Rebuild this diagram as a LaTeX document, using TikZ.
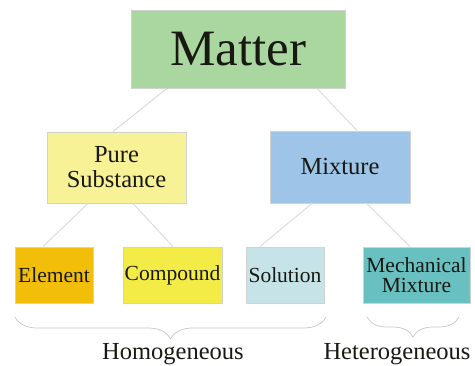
\documentclass[tikz,border=0pt]{standalone}
\usepackage{fontspec}
\setmainfont{Liberation Serif}
\usetikzlibrary{positioning,decorations.pathreplacing}

\definecolor{matterGreen}{RGB}{170,214,160}
\definecolor{pureYellow}{RGB}{247,242,150}
\definecolor{mixBlue}{RGB}{158,197,232}
\definecolor{elemOrange}{RGB}{242,190,10}
\definecolor{compYellow}{RGB}{243,235,70}
\definecolor{solCyan}{RGB}{198,227,231}
\definecolor{mechTeal}{RGB}{104,192,192}
\definecolor{inkDark}{RGB}{25,25,20}

\begin{document}
\begin{tikzpicture}[
        x=1pt, y=-1pt,
        box/.style={
            rectangle, draw = gray!35, line width = 0.8pt, text = inkDark,
            inner sep = 0pt, align = center
        },
        link/.style={draw = gray!30, line width = 0.9pt},
        bracket/.style={
            draw = gray!45, line width = 0.7pt,
            decorate, decoration = {brace, mirror, amplitude = 22pt}
        },
        grouplabel/.style={text = inkDark, font = \fontsize{24.5}{26}\selectfont},
    ]
        \useasboundingbox (0,0) rectangle (475,366);

        \node (matter) [box, fill = matterGreen, minimum width = 214pt, minimum height = 78pt,
            font = \fontsize{51}{51}\selectfont] at (238,49) {Matter};

        \node (pure) [box, fill = pureYellow, minimum width = 139pt, minimum height = 71pt,
            font = \fontsize{24.5}{25}\selectfont] at (116.5,167.5) {Pure\\Substance};
        \node (mixture) [box, fill = mixBlue, minimum width = 140pt, minimum height = 72pt,
            font = \fontsize{24.5}{25}\selectfont] at (340,167) {Mixture};

        \node (element) [box, fill = elemOrange, minimum width = 78pt, minimum height = 56pt,
            font = \fontsize{21.5}{22}\selectfont] at (54,275) {Element};
        \node (compound) [box, fill = compYellow, minimum width = 99pt, minimum height = 56pt,
            font = \fontsize{21.5}{22}\selectfont] at (172.5,275) {Compound};
        \node (solution) [box, fill = solCyan, minimum width = 78pt, minimum height = 56pt,
            font = \fontsize{21.5}{22}\selectfont] at (285,275) {Solution};
        \node (mechanical) [box, fill = mechTeal, minimum width = 107pt, minimum height = 56pt,
            font = \fontsize{21.5}{20}\selectfont] at (416.5,275) {Mechanical\\Mixture};

        % connectors
        \draw[link] ([xshift=-71pt]matter.south) -- ([xshift=-3.5pt]pure.north);
        \draw[link] ([xshift=79pt]matter.south) -- ([xshift=17pt]mixture.north);
        \draw[link] ([xshift=-28.5pt]pure.south) -- ([xshift=-11pt]element.north);
        \draw[link] ([xshift=16.5pt]pure.south) -- ([xshift=0.5pt]compound.north);
        \draw[link] ([xshift=-28pt]mixture.south) -- ([xshift=-25pt]solution.north);
        \draw[link] ([xshift=27pt]mixture.south) -- ([xshift=-6.5pt]mechanical.north);

        % groups
        \coordinate (homLeft) at (15,317);
        \coordinate (homRight) at (326,317);
        \coordinate (hetLeft) at (367,317);
        \coordinate (hetRight) at (459,317);
        \draw[bracket] (homLeft) -- (homRight);
        \draw[bracket, decoration = {amplitude = 20pt}] (hetLeft) -- (hetRight);

        \node (homogeneous) [grouplabel] at (173,354) {Homogeneous};
        \node (heterogeneous) [grouplabel] at (397,354) {Heterogeneous};

    \end{tikzpicture}
\end{document}
